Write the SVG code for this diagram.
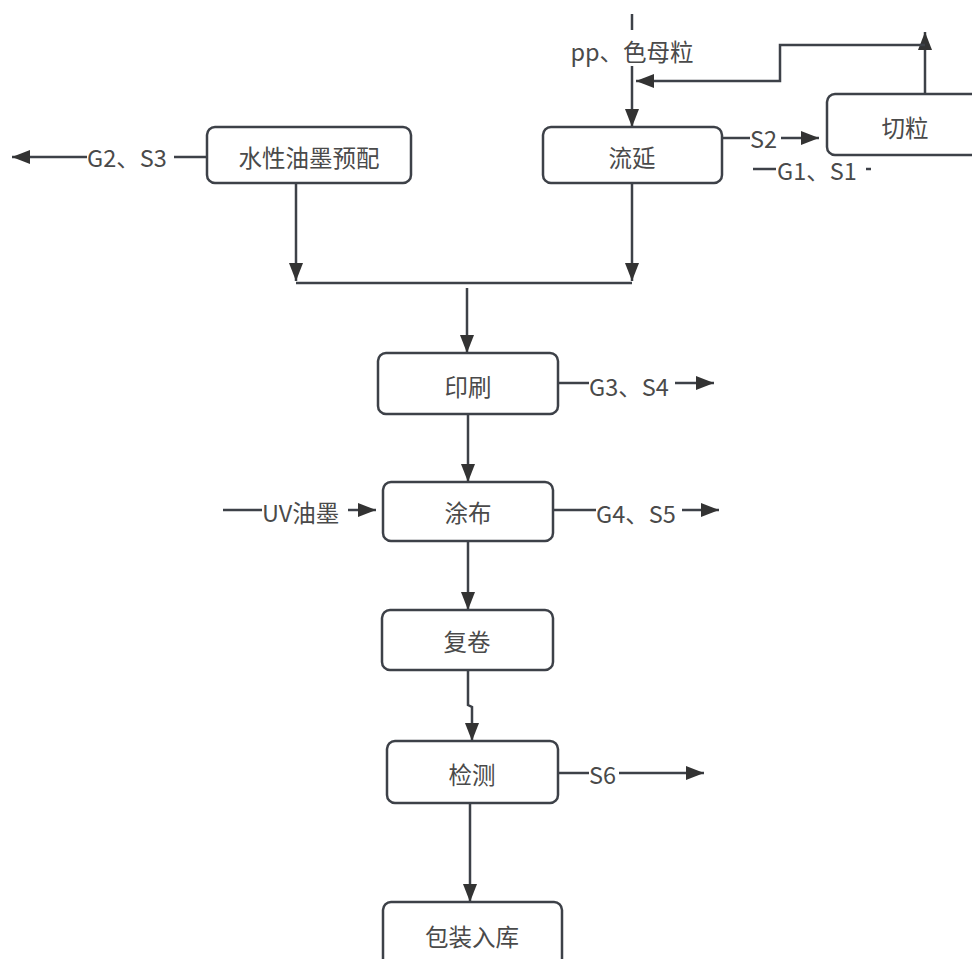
<svg xmlns="http://www.w3.org/2000/svg" width="972" height="959" viewBox="0 0 972 959">
<style>
.box{fill:#fff;stroke:#3d4148;stroke-width:2.5}
.ln{fill:none;stroke:#3d4148;stroke-width:2.5}
.t{font-family:"Noto Sans CJK SC","Noto Sans",sans-serif;font-size:23.5px;fill:#4a4a4a;text-anchor:middle;dominant-baseline:central}
.l{font-family:"Noto Sans CJK SC","Noto Sans",sans-serif;font-size:23.5px;fill:#4a4a4a;dominant-baseline:central}
</style>
<defs>
<marker id="a" markerUnits="userSpaceOnUse" markerWidth="20" markerHeight="16" refX="18" refY="8" orient="auto">
<path d="M0,1 L18,8 L0,15 Z" fill="#333"/>
</marker>
</defs>
<rect width="972" height="959" fill="#fff"/>
<g id="connectors">
<line class="ln" x1="632" y1="14" x2="632" y2="30"/>
<line class="ln" x1="632" y1="66" x2="632" y2="127" marker-end="url(#a)"/>
<line class="ln" x1="925" y1="94" x2="925" y2="32" marker-end="url(#a)"/>
<polyline class="ln" points="925,45 780,45 780,81 636,81" marker-end="url(#a)"/>
<line class="ln" x1="722" y1="138" x2="750" y2="138"/>
<line class="ln" x1="781" y1="138" x2="819" y2="138" marker-end="url(#a)"/>
<line class="ln" x1="753" y1="169" x2="776" y2="169"/>
<line class="ln" x1="866" y1="169" x2="871" y2="169"/>
<line class="ln" x1="207" y1="157" x2="174" y2="157"/>
<line class="ln" x1="87" y1="157" x2="12" y2="157" marker-end="url(#a)"/>
<line class="ln" x1="296" y1="183" x2="296" y2="281" marker-end="url(#a)"/>
<line class="ln" x1="632" y1="183" x2="632" y2="281" marker-end="url(#a)"/>
<line class="ln" x1="296" y1="283" x2="632" y2="283"/>
<line class="ln" x1="467" y1="288" x2="467" y2="353" marker-end="url(#a)"/>
<line class="ln" x1="558" y1="383" x2="589" y2="383"/>
<line class="ln" x1="675" y1="383" x2="714" y2="383" marker-end="url(#a)"/>
<line class="ln" x1="468" y1="414" x2="468" y2="482" marker-end="url(#a)"/>
<line class="ln" x1="223" y1="510" x2="262" y2="510"/>
<line class="ln" x1="348" y1="510" x2="376" y2="510" marker-end="url(#a)"/>
<line class="ln" x1="553" y1="510" x2="596" y2="510"/>
<line class="ln" x1="682" y1="510" x2="719" y2="510" marker-end="url(#a)"/>
<line class="ln" x1="468" y1="541" x2="468" y2="610" marker-end="url(#a)"/>
<polyline class="ln" points="468,670 468,705 472,707 472,741" marker-end="url(#a)"/>
<line class="ln" x1="558" y1="773" x2="589" y2="773"/>
<line class="ln" x1="619" y1="773" x2="704" y2="773" marker-end="url(#a)"/>
<line class="ln" x1="470" y1="803" x2="470" y2="902" marker-end="url(#a)"/>
</g>
<g id="labels">
<text class="t" x="632" y="51">pp、色母粒</text>
<text class="l" x="750" y="138">S2</text>
<text class="l" x="777" y="170">G1、S1</text>
<text class="l" x="87" y="157">G2、S3</text>
<text class="l" x="589" y="386">G3、S4</text>
<text class="l" x="262" y="512">UV油墨</text>
<text class="l" x="596" y="513">G4、S5</text>
<text class="l" x="589" y="774">S6</text>
</g>
<g id="n_ink"><rect class="box" x="207" y="127" width="204" height="56" rx="8"/><text class="t" x="309" y="157">水性油墨预配</text></g>
<g id="n_cast"><rect class="box" x="543" y="127" width="179" height="56" rx="8"/><text class="t" x="632" y="157">流延</text></g>
<g id="n_cut"><rect class="box" x="827" y="94" width="170" height="61" rx="8"/><text class="t" x="905" y="127">切粒</text></g>
<g id="n_print"><rect class="box" x="378" y="353" width="180" height="61" rx="8"/><text class="t" x="468" y="386">印刷</text></g>
<g id="n_coat"><rect class="box" x="383" y="482" width="170" height="59" rx="8"/><text class="t" x="468" y="512">涂布</text></g>
<g id="n_rewind"><rect class="box" x="382" y="610" width="171" height="60" rx="8"/><text class="t" x="467" y="641">复卷</text></g>
<g id="n_inspect"><rect class="box" x="387" y="741" width="171" height="62" rx="8"/><text class="t" x="472" y="774">检测</text></g>
<g id="n_pack"><rect class="box" x="383" y="902" width="179" height="70" rx="8"/><text class="t" x="472" y="936">包装入库</text></g>
</svg>
